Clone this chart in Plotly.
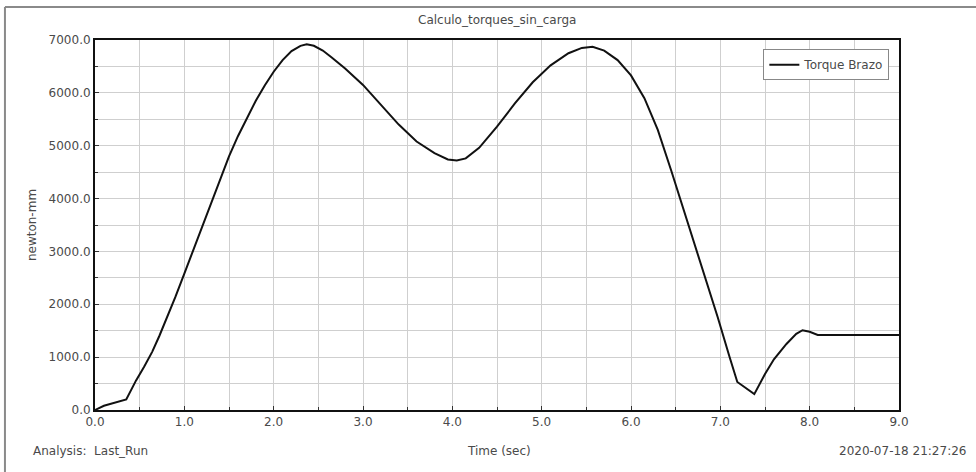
import plotly.graph_objects as go

# Torque on the arm over time (no load case)
time_s = [0.0, 0.1, 0.35, 0.46, 0.55, 0.64, 0.72, 0.8, 0.9, 1.0, 1.2, 1.4,
          1.5, 1.6, 1.7, 1.8, 1.9, 2.0, 2.1, 2.2, 2.3, 2.37, 2.45, 2.55, 2.65,
          2.8, 3.0, 3.2, 3.4, 3.6, 3.8, 3.95, 4.05, 4.15, 4.3, 4.5, 4.7, 4.9,
          5.1, 5.3, 5.45, 5.57, 5.7, 5.85, 6.0, 6.15, 6.3, 6.45, 6.6, 6.8,
          6.97, 7.1, 7.19, 7.38, 7.5, 7.6, 7.74, 7.85, 7.92, 8.0, 8.09, 9.0]
torque_nmm = [0, 80, 200, 560, 820, 1100, 1400, 1720, 2140, 2580, 3480, 4380,
              4800, 5180, 5520, 5850, 6140, 6400, 6620, 6790, 6890, 6920, 6890,
              6800, 6670, 6460, 6150, 5780, 5400, 5080, 4860, 4740, 4720, 4760,
              4960, 5360, 5800, 6200, 6520, 6750, 6850, 6870, 6800, 6620, 6330,
              5900, 5300, 4530, 3740, 2700, 1760, 1020, 530, 300, 680, 960,
              1250, 1440, 1510, 1480, 1420, 1420]

x_ticks = [0, 1, 2, 3, 4, 5, 6, 7, 8, 9]
y_ticks = [0, 1000, 2000, 3000, 4000, 5000, 6000, 7000]

FONT = "DejaVu Sans, Verdana, sans-serif"
FS = 12
TXT = "#4a4a4a"
GRID = "#cfcfcf"

fig = go.Figure()
fig.add_trace(go.Scatter(
    x=time_s, y=torque_nmm, mode="lines", name="Torque Brazo",
    line=dict(color="#111111", width=2),
))

axis_common = dict(
    showline=True, linecolor="#111111", linewidth=2, mirror=True,
    showgrid=True, gridcolor=GRID, gridwidth=1,
    ticks="inside", ticklen=4, tickcolor="#333333",
    tickfont=dict(family=FONT, size=FS, color=TXT),
    zeroline=False,
)

fig.update_xaxes(
    range=[0, 9], tickvals=x_ticks, tickformat=".1f",
    minor=dict(dtick=0.5, showgrid=True, gridcolor=GRID, ticks="inside",
               ticklen=3, tickcolor="#333333"),
    **axis_common,
)
fig.update_yaxes(
    range=[0, 7000], tickvals=y_ticks, tickformat=".1f",
    minor=dict(dtick=500, showgrid=True, gridcolor=GRID, ticks="inside",
               ticklen=3, tickcolor="#333333"),
    title=dict(text="newton-mm", font=dict(family=FONT, size=FS, color=TXT),
               standoff=9),
    **axis_common,
)

fig.update_layout(
    width=976, height=472,
    margin=dict(l=95, r=77, t=40, b=62),
    paper_bgcolor="white", plot_bgcolor="white",
    font=dict(family=FONT, size=FS, color=TXT),
    showlegend=True,
    legend=dict(x=0.988, y=0.975, xanchor="right", yanchor="top",
                bgcolor="white", bordercolor="#888888", borderwidth=1,
                font=dict(family=FONT, size=FS, color=TXT),
                itemwidth=30, tracegroupgap=0),
    shapes=[
        # outer frame edges
        dict(type="line", xref="paper", yref="paper",
             x0=-0.112, x1=1.2, y0=1.089, y1=1.089,
             line=dict(color="#8a8a8a", width=2)),
        dict(type="line", xref="paper", yref="paper",
             x0=-0.112, x1=-0.112, y0=1.089, y1=-0.3,
             line=dict(color="#8a8a8a", width=2)),
    ],
    annotations=[
        dict(text="Calculo_torques_sin_carga", xref="paper", yref="paper",
             x=0.5, y=1.054, xanchor="center", yanchor="middle",
             showarrow=False, font=dict(family=FONT, size=FS, color=TXT)),
        dict(text="Time (sec)", xref="paper", yref="paper",
             x=0.502, y=-0.111, xanchor="center", yanchor="middle",
             showarrow=False, font=dict(family=FONT, size=FS, color=TXT)),
        dict(text="Analysis:  Last_Run", xref="paper", yref="paper",
             x=-0.079, y=-0.111, xanchor="left", yanchor="middle",
             showarrow=False, font=dict(family=FONT, size=FS, color=TXT)),
        dict(text="2020-07-18 21:27:26", xref="paper", yref="paper",
             x=1.086, y=-0.111, xanchor="right", yanchor="middle",
             showarrow=False, font=dict(family=FONT, size=FS, color=TXT)),
    ],
)

fig.write_html("out.html")
